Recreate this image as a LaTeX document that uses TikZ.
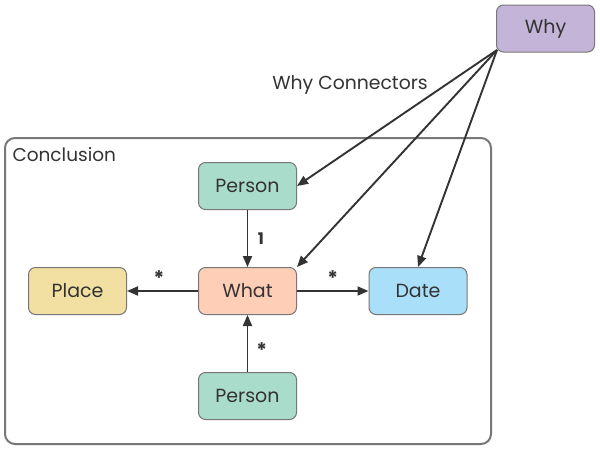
\documentclass[tikz,border=0pt]{standalone}
\usepackage{fontspec}
\setmainfont{Poppins}
\usetikzlibrary{arrows.meta}
\definecolor{whyc}{HTML}{C3B4D8}
\definecolor{personc}{HTML}{AADCCC}
\definecolor{whatc}{HTML}{FFCEB6}
\definecolor{placec}{HTML}{F1E0A1}
\definecolor{datec}{HTML}{AADFFA}
\definecolor{edgec}{HTML}{777777}
\definecolor{inkc}{HTML}{333333}
\begin{document}
\begin{tikzpicture}[x=1pt,y=-1pt,
  box/.style={draw=edgec,line width=1pt,rounded corners=7pt,minimum width=98pt,minimum height=47pt,inner sep=0pt,font=\fontsize{19}{22}\selectfont,text=inkc},
  conn/.style={draw=inkc,line width=1.9pt,-{Triangle[length=11pt,width=9pt]}},
  lbl/.style={font=\fontsize{16}{18}\selectfont,text=inkc},
  star/.style={font=\fontsize{20}{20}\selectfont\bfseries,text=inkc,inner sep=0pt}]
\useasboundingbox (0,0) rectangle (600,450);
\fill[white] (0,0) rectangle (600,450);
\draw[edgec,line width=2pt,rounded corners=10pt] (5,138) rectangle (491,444);
\node[anchor=west,font=\fontsize{18.5}{22}\selectfont,text=inkc] (concl) at (9,155) {Conclusion};
\node[box,fill=whyc] (why) at (545.5,28.5) {Why};
\node[box,fill=personc] (p1) at (247.5,186) {Person};
\node[box,fill=whatc] (what) at (247.5,291) {What};
\node[box,fill=placec] (place) at (77.5,291) {Place};
\node[box,fill=datec] (date) at (418,291) {Date};
\node[box,fill=personc] (p2) at (247.5,396) {Person};
\node[font=\fontsize{18.8}{22}\selectfont,text=inkc] (wc) at (350,85) {Why Connectors};
\coordinate (src) at (497,50);
\draw[conn] (src) -- (p1.east);
\draw[conn] (src) -- (what.north east);
\draw[conn] (src) -- (date.north);
\draw[conn] (p1) -- node[lbl,right=6pt,pos=0.5] {\textbf{1}} (what);
\draw[conn] (what) -- node[star,above=5pt,pos=0.55] {*} (place);
\draw[conn] (what) -- node[star,above=5pt,pos=0.5] {*} (date);
\draw[conn] (p2) -- node[star,right=8pt,pos=0.38] {*} (what);
\end{tikzpicture}
\end{document}
